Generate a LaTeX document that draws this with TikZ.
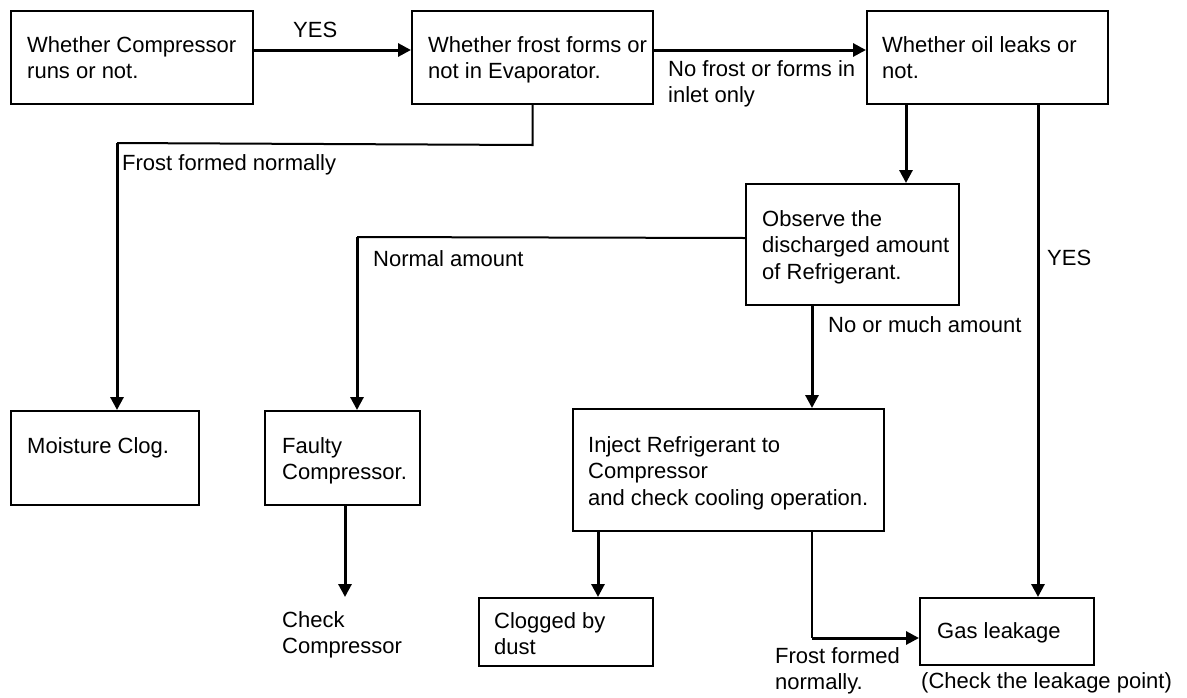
\documentclass[tikz,border=0pt]{standalone}
\usepackage{fontspec}
\setmainfont{Liberation Sans}
\usetikzlibrary{arrows.meta,calc}
\begin{document}
\begin{tikzpicture}[x=1pt,y=-1pt,
  box/.style={draw, line width=2pt, anchor=north west, inner sep=0pt},
  txt/.style={anchor=north west, inner sep=0pt, align=left,
              font=\fontsize{22}{26.5}\selectfont},
  link/.style={line width=2pt},
  arr/.style={line width=3pt, -{Triangle[length=13pt,width=13pt]}},
]
\fill[white] (0,0) rectangle (1187,697);
\useasboundingbox (0,0) rectangle (1187,697);

% boxes
\node[box, minimum width=242pt, minimum height=93pt]  (b1)  at (10,10)   {};
\node[box, minimum width=241pt, minimum height=93pt]  (b2)  at (411,10)  {};
\node[box, minimum width=241pt, minimum height=93pt]  (b3)  at (866,10)  {};
\node[box, minimum width=213pt, minimum height=121pt] (obs) at (745,183) {};
\node[box, minimum width=188pt, minimum height=94pt]  (mc)  at (10,410)  {};
\node[box, minimum width=155pt, minimum height=94pt]  (fc)  at (264,410) {};
\node[box, minimum width=311pt, minimum height=122pt] (inj) at (572,408) {};
\node[box, minimum width=174pt, minimum height=68pt]  (cl)  at (478,597) {};
\node[box, minimum width=174pt, minimum height=67pt]  (gas) at (919,597) {};

% box texts
\node[txt] (t1)  at (27,36)   {Whether Compressor\\runs or not.};
\node[txt] (t2)  at (428,36)  {Whether frost forms or\\not in Evaporator.};
\node[txt] (t3)  at (882,36)  {Whether oil leaks or\\not.};
\node[txt] (tob) at (762,210) {Observe the\\discharged amount\\of Refrigerant.};
\node[txt] (tmc) at (27,437)  {Moisture Clog.};
\node[txt] (tfc) at (282,437) {Faulty\\Compressor.};
\node[txt] (tin) at (588,436) {Inject Refrigerant to\\Compressor\\and check cooling operation.};
\node[txt] (tcl) at (494,612) {Clogged by\\dust};
\node[txt] (tga) at (937,622) {Gas leakage};
\node[txt] (ck)  at (282,611) {Check\\Compressor};
\node[txt] (cl2) at (921,672) {(Check the leakage point)};

% connector labels
\node[txt] (l1) at (293,22)   {YES};
\node[txt] (l2) at (668,60)   {No frost or forms in\\inlet only};
\node[txt] (l3) at (122,154)  {Frost formed normally};
\node[txt] (l4) at (373,250)  {Normal amount};
\node[txt] (l5) at (1047,250) {YES};
\node[txt] (l6) at (828,316)  {No or much amount};
\node[txt] (l7) at (775,647)  {Frost formed\\normally.};

% bend and attachment points
\coordinate (k1)  at ($(b2.south)+(0,40)$);
\coordinate (k2)  at (117,143);
\coordinate (b3a) at ($(b3.south west)+(40,0)$);
\coordinate (b3b) at ($(b3.south west)+(172,0)$);
\coordinate (ow)  at ([yshift=6.5pt]obs.west);
\coordinate (k3)  at (357,237);
\coordinate (os)  at ($(obs.south west)+(67,0)$);
\coordinate (is1) at ($(inj.south west)+(26,0)$);
\coordinate (is2) at ($(inj.south west)+(240,0)$);
\coordinate (gw)  at ([yshift=-6.5pt]gas.west);

% connectors
\draw[arr] ([yshift=7.5pt]b1.east) -- ([yshift=7.5pt]b2.west);
\draw[arr] ([yshift=7.5pt]b2.east) -- ([yshift=7.5pt]b3.west);
\draw[link] (b2.south) -- (k1) -- (k2);
\draw[arr] (k2) -- (k2 |- mc.north);
\draw[arr] (b3a) -- (b3a |- obs.north);
\draw[arr] (b3b) -- (b3b |- gas.north);
\draw[link] (ow) -- (k3);
\draw[arr] (k3) -- (k3 |- fc.north);
\draw[arr] (os) -- (os |- inj.north);
\draw[arr, shorten >=14pt] ([xshift=2.5pt]fc.south) -- ([xshift=2.5pt]fc.south |- ck.north);
\draw[arr] (is1) -- (is1 |- cl.north);
\draw[link] (is2) -- (is2 |- gw);
\draw[arr] (is2 |- gw) -- (gw);
\end{tikzpicture}
\end{document}
